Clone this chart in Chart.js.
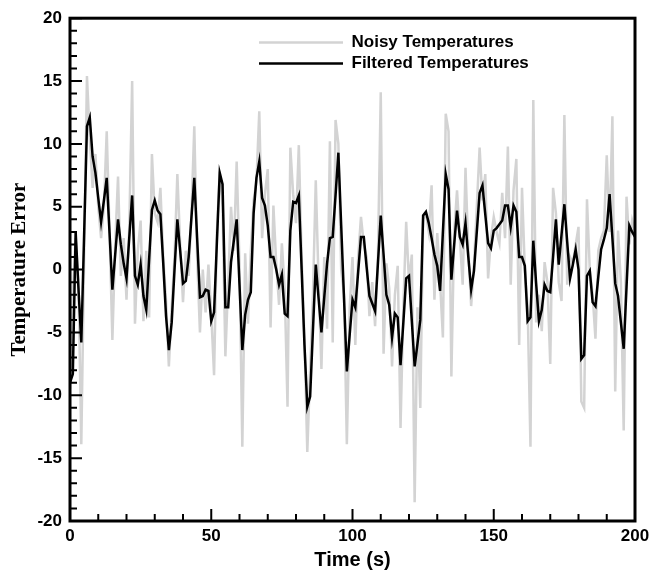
<!DOCTYPE html>
<html>
<head>
<meta charset="utf-8">
<script src="https://cdn.jsdelivr.net/npm/chart.js@4.4.1/dist/chart.umd.min.js"></script>
<style>
  html, body { margin: 0; padding: 0; background: #fff; }
  canvas { display: block; }
</style>
</head>
<body>
<canvas id="kalman" width="665" height="576"></canvas>
<script>
// temperature error samples, one per second (t = 0 .. 200)
var noisy = [
  -9.5, -2.0, 2.5, -1.0, -13.9, 1.0, 15.4, 10.5, 6.5, 9.2,
  5.0, 2.5, 5.0, 11.0, 3.0, -5.6, 2.0, 7.4, -0.5, 2.5,
  -2.4, 3.5, 15.0, -4.3, 1.5, 3.9, -4.1, 1.5, -3.8, 9.2,
  4.5, 3.8, 6.5, 1.0, -2.5, -7.7, -3.0, 1.0, 7.6, 2.0,
  -2.6, 1.5, -0.5, 4.5, 11.4, 1.0, -5.0, 0.0, -3.4, 0.4,
  -3.5, -8.4, 3.0, 7.8, 5.0, -6.9, -1.0, 5.0, 1.5, 8.6,
  0.5, -14.1, 1.3, -4.3, 1.5, 5.5, 7.0, 12.6, 2.5, 6.0,
  8.0, -4.6, 5.1, 0.5, -2.8, 2.1, -1.5, -10.9, 9.7, 6.0,
  3.7, 9.9, 1.0, -5.5, -14.5, -8.0, -2.0, 7.1, -1.0, -7.9,
  1.0, -4.7, 10.2, -5.8, 11.9, 10.0, 0.0, -2.0, -13.9, -3.0,
  1.0, -6.0, 1.0, 4.2, 2.0, 1.0, -3.7, -1.0, -4.5, 1.0,
  14.1, -6.7, 0.5, -1.5, -7.7, -2.0, 0.3, -12.6, -3.0, 3.8,
  -1.0, 1.2, -18.5, -3.0, -11.0, 4.0, 4.5, 3.0, 6.7, -2.4,
  2.9, -1.0, -5.4, 12.4, 11.0, -8.5, 3.0, 6.3, 2.5, -1.2,
  8.1, 1.5, -2.9, 0.4, 5.0, 9.7, 5.5, 7.6, -0.7, 2.5,
  4.2, 3.0, 2.1, 6.1, 2.5, 9.8, -1.2, 6.3, 8.8, -6.0,
  6.5, 0.0, -3.0, -14.1, 13.5, -4.2, -2.0, -4.9, 0.6, -1.0,
  -7.5, 6.5, 4.5, -1.0, -2.5, 12.3, -1.2, 1.0, 0.5, 2.0,
  3.4, -10.5, -11.0, 5.6, 0.0, -2.0, -5.5, 1.5, 2.5, 3.1,
  9.1, 3.0, 12.2, -9.7, 3.1, -1.0, -12.8, 5.8, 2.0, 3.9,
  3.0
];
var filtered = [
  -9.0, -8.3, 3.0, -1.5, -5.8, 2.8, 11.4, 12.1, 9.0, 7.7,
  5.7, 3.8, 5.5, 7.3, 2.9, -1.6, 1.2, 4.0, 2.0, 0.5,
  -0.7, 2.6, 5.9, -0.5, -1.2, 0.4, -2.1, -3.2, 0.8, 4.75,
  5.5, 4.7, 4.4, 0.5, -3.7, -6.4, -4.2, 0.0, 4.0, 1.5,
  -1.1, -0.9, 1.0, 4.2, 7.3, 2.5, -2.2, -2.1, -1.6, -1.7,
  -4.1, -3.4, 2.2, 7.7, 6.8, -3.0, -3.0, 0.6, 2.3, 4.0,
  -1.2, -6.4, -3.6, -2.4, -1.8, 4.5, 7.3, 8.6, 5.7, 5.1,
  3.5, 1.0, 1.0, 0.0, -1.2, -0.4, -3.5, -3.7, 3.1, 5.4,
  5.3, 5.9, 0.0, -6.0, -10.9, -10.1, -4.8, 0.4, -2.3, -5.0,
  -2.2, 0.5, 2.5, 2.6, 5.9, 9.3, 3.5, -2.3, -8.1, -5.2,
  -2.4, -3.0, -0.2, 2.6, 2.6, 0.2, -2.1, -2.7, -3.3, 0.5,
  4.3, 1.2, -2.0, -2.8, -5.4, -3.5, -3.8, -7.6, -4.2, -0.7,
  -0.5, -4.1, -7.7, -5.9, -4.0, 4.3, 4.6, 3.7, 2.5, 1.2,
  0.3, -1.7, 3.0, 7.6, 6.4, -0.8, 2.0, 4.7, 2.6, 2.0,
  3.7, 1.0, -1.6, -0.1, 3.0, 6.1, 6.7, 4.4, 2.1, 1.7,
  3.1, 3.3, 3.6, 3.9, 5.1, 5.1, 3.4, 5.1, 4.6, 1.0,
  1.0, 0.3, -4.1, -3.8, 2.3, -1.1, -4.1, -3.2, -1.2, -1.7,
  -1.8, 1.0, 4.0, 0.4, 2.8, 5.2, 2.2, -0.7, 0.4, 1.6,
  0.0, -7.1, -6.8, -0.5, -0.1, -2.6, -2.9, -0.6, 1.6, 2.4,
  3.3, 6.0, 2.5, -1.1, -2.1, -4.2, -6.3, -1.4, 3.5, 3.0,
  2.6
];
var times = noisy.map(function (v, i) { return i; });
var xMajor = [0, 50, 100, 150, 200];
var yMajor = [-20, -15, -10, -5, 0, 5, 10, 15, 20];

function pairs(ys) {
  return ys.map(function (y, i) { return { x: times[i], y: y }; });
}

// frame round the plot, tick marks pointing inwards
var frameTicks = {
  id: 'frameTicks',
  afterDraw: function (chart) {
    var c = chart.ctx, a = chart.chartArea;
    var sx = chart.scales.x, sy = chart.scales.y;
    c.save();
    c.strokeStyle = '#000';
    c.lineWidth = 2;
    c.beginPath();
    for (var t = 0; t <= 200; t += 10) {
      var px = sx.getPixelForValue(t);
      var len = xMajor.indexOf(t) >= 0 ? 12 : 7;
      c.moveTo(px, a.bottom);
      c.lineTo(px, a.bottom - len);
    }
    for (var v = -20; v <= 20; v += 1) {
      var py = sy.getPixelForValue(v);
      var l2 = yMajor.indexOf(v) >= 0 ? 12 : 7;
      c.moveTo(a.left, py);
      c.lineTo(a.left + l2, py);
    }
    c.stroke();
    c.lineWidth = 3;
    c.strokeRect(a.left, a.top, a.right - a.left, a.bottom - a.top);
    c.restore();
  }
};

// put the legend inside the plot, upper middle
var legendSpot = {
  id: 'legendSpot',
  afterLayout: function (chart) {
    var lg = chart.legend;
    lg.left = 255;
    lg.top = 30;
    lg.right = lg.left + 320;
    lg.bottom = lg.top + 60;
    lg.width = 320;
    lg.height = 60;
  }
};

var tickFont = { family: 'Liberation Sans, Arial, sans-serif', size: 17, weight: 'bold' };

var ctx = document.getElementById('kalman').getContext('2d');
var myChart = new Chart(ctx, {
  type: 'line',
  data: {
    datasets: [
      {
        label: 'Noisy Temperatures',
        data: pairs(noisy),
        borderColor: '#d3d3d3',
        backgroundColor: '#d3d3d3',
        borderWidth: 2.5,
        pointRadius: 0,
        order: 1,
      },
      {
        label: 'Filtered Temperatures',
        data: pairs(filtered),
        borderColor: '#000000',
        backgroundColor: '#000000',
        borderWidth: 2.5,
        pointRadius: 0,
        order: 0,
      },
    ],
  },
  options: {
    responsive: false,
    maintainAspectRatio: false,
    animation: false,
    devicePixelRatio: 1,
    layout: { padding: { left: 0, top: 12, right: 30, bottom: 0 } },
    elements: { line: { tension: 0 } },
    plugins: {
      tooltip: { enabled: false },
      legend: {
        position: 'chartArea',
        align: 'start',
        labels: {
          usePointStyle: true,
          pointStyle: 'line',
          pointStyleWidth: 84,
          boxWidth: 84,
          padding: 4,
          color: '#000',
          font: tickFont,
          sort: function (a, b) { return a.datasetIndex - b.datasetIndex; },
        },
      },
    },
    scales: {
      x: {
        type: 'linear',
        min: 0,
        max: 200,
        afterFit: function (s) { s.height = 55; },
        grid: { display: false, drawTicks: false },
        border: { display: false },
        ticks: { stepSize: 50, padding: 5, color: '#000', font: tickFont, maxRotation: 0 },
        title: {
          display: true,
          text: 'Time (s)',
          color: '#000',
          font: { family: 'Liberation Sans, Arial, sans-serif', size: 20, weight: 'bold' },
          padding: { top: 0, bottom: 4 },
        },
      },
      y: {
        type: 'linear',
        min: -20,
        max: 20,
        afterFit: function (s) { s.width = 70; },
        grid: { display: false, drawTicks: false },
        border: { display: false },
        ticks: { stepSize: 5, padding: 8, color: '#000', font: tickFont },
        title: {
          display: true,
          text: 'Temperature Error',
          color: '#000',
          font: { family: 'Liberation Serif, Times New Roman, serif', size: 21, weight: 'bold' },
          padding: { top: 7, bottom: 0 },
        },
      },
    },
  },
  plugins: [frameTicks, legendSpot],
});
</script>
</body>
</html>
